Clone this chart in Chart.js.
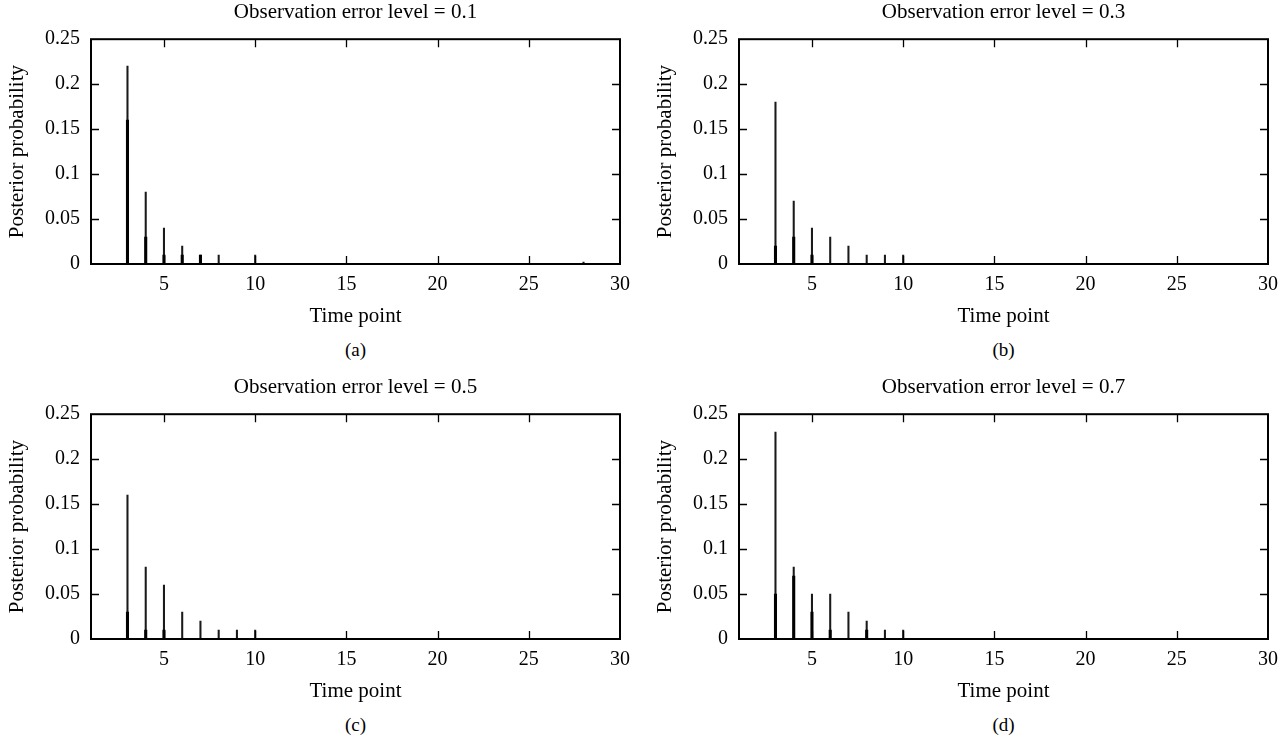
<!DOCTYPE html>
<html lang="en">
<head>
  <meta charset="UTF-8" />
  <title>Posterior probability vs time point</title>
  <script src="https://cdn.jsdelivr.net/npm/chart.js@4.4.0/dist/chart.umd.min.js"></script>
  <style>
    body {
      margin: 0;
      background: #fff;
      font-family: 'Liberation Serif', serif;
      width: 1288px;
      height: 749px;
      position: relative;
      overflow: hidden;
    }
    .panel { position: absolute; width: 640px; height: 375px; }
    .panel canvas { position: absolute; left: 0; top: 0; }
    .caption {
      position: absolute;
      top: 339px;
      left: 91px;
      width: 529px;
      text-align: center;
      font-size: 19px;
      color: #000;
    }
  </style>
</head>
<body>

  <div class="panel" style="left:0;top:0"><canvas id="chartA" width="640" height="334"></canvas><div class="caption">(a)</div></div>
  <div class="panel" style="left:648px;top:0"><canvas id="chartB" width="640" height="334"></canvas><div class="caption">(b)</div></div>
  <div class="panel" style="left:0;top:375px"><canvas id="chartC" width="640" height="334"></canvas><div class="caption">(c)</div></div>
  <div class="panel" style="left:648px;top:375px"><canvas id="chartD" width="640" height="334"></canvas><div class="caption">(d)</div></div>

  <script>
    // error levels, one per panel
    const errorLevels = [0.1, 0.3, 0.5, 0.7];

    // time points with a visible spike, and posterior probabilities
    const timeA = [3, 4, 5, 6, 7, 8, 10, 28];
    const probA = [0.22, 0.08, 0.04, 0.02, 0.01, 0.01, 0.01, 0.002];
    const timeB = [3, 4, 5, 6, 7, 8, 9, 10];
    const probB = [0.18, 0.07, 0.04, 0.03, 0.02, 0.01, 0.01, 0.01];
    const timeC = [3, 4, 5, 6, 7, 8, 9, 10];
    const probC = [0.16, 0.08, 0.06, 0.03, 0.02, 0.01, 0.01, 0.01];
    const timeD = [3, 4, 5, 6, 7, 8, 9, 10];
    const probD = [0.23, 0.08, 0.05, 0.05, 0.03, 0.02, 0.01, 0.01];

    // overlapping (darker) part of the spikes
    const darkTimeA = [3, 4, 5, 6, 7];
    const darkProbA = [0.16, 0.03, 0.01, 0.01, 0.01];
    const darkTimeB = [3, 4, 5];
    const darkProbB = [0.02, 0.03, 0.01];
    const darkTimeC = [3, 4, 5];
    const darkProbC = [0.03, 0.01, 0.01];
    const darkTimeD = [3, 4, 5, 6, 8];
    const darkProbD = [0.05, 0.07, 0.03, 0.01, 0.01];

    const xTicks = [5, 10, 15, 20, 25, 30];
    const yTicks = [0, 0.05, 0.1, 0.15, 0.2, 0.25];

    const FONT = "'Liberation Serif', 'DejaVu Serif', serif";

    const toPoints = (xs, ys) => xs.map((x, i) => ({ x: x, y: ys[i] }));

    // box frame + inward ticks on all four sides
    const framePlugin = {
      id: 'frame',
      afterDraw(chart) {
        const { ctx, chartArea: a, scales } = chart;
        ctx.save();
        ctx.strokeStyle = '#000';
        ctx.lineWidth = 1.3;
        const len = 8;
        ctx.beginPath();
        xTicks.forEach(v => {
          if (v <= scales.x.min || v >= scales.x.max) return;
          const px = Math.round(scales.x.getPixelForValue(v)) + 0.5;
          ctx.moveTo(px, a.bottom); ctx.lineTo(px, a.bottom - len);
          ctx.moveTo(px, a.top); ctx.lineTo(px, a.top + len);
        });
        yTicks.forEach(v => {
          if (v <= scales.y.min || v >= scales.y.max) return;
          const py = Math.round(scales.y.getPixelForValue(v)) + 0.5;
          ctx.moveTo(a.left, py); ctx.lineTo(a.left + len, py);
          ctx.moveTo(a.right, py); ctx.lineTo(a.right - len, py);
        });
        ctx.stroke();
        ctx.lineWidth = 2;
        ctx.strokeRect(a.left, a.top, a.right - a.left, a.bottom - a.top);
        ctx.restore();
      }
    };

    function makeChart(id, level, xs, ys, dxs, dys) {
      return new Chart(document.getElementById(id), {
        type: 'bar',
        data: {
          datasets: [
            { data: toPoints(dxs, dys), backgroundColor: '#000', barThickness: 2.4, order: 0 },
            { data: toPoints(xs, ys), backgroundColor: '#1a1a1a', barThickness: 1.4, order: 1 }
          ]
        },
        options: {
          responsive: false,
          animation: false,
          events: [],
          layout: { padding: { left: 0, right: 20, top: 0, bottom: 0 } },
          datasets: { bar: { grouped: false } },
          plugins: {
            legend: { display: false },
            tooltip: { enabled: false },
            title: {
              display: true,
              fullSize: false,
              text: 'Observation error level = ' + level,
              color: '#000',
              font: { family: FONT, size: 21, weight: 'normal' },
              padding: { top: 0, bottom: 14 }
            }
          },
          scales: {
            x: {
              type: 'linear',
              min: 1,
              max: 30,
              offset: false,
              grid: { display: false, drawTicks: false, offset: false },
              border: { display: false },
              afterBuildTicks: s => { s.ticks = xTicks.map(v => ({ value: v })); },
              ticks: { color: '#000', padding: 9, maxRotation: 0, font: { family: FONT, size: 20 } },
              title: {
                display: true, text: 'Time point', color: '#000',
                font: { family: FONT, size: 21 }, padding: { top: 0, bottom: 5 }
              },
              afterFit: s => { s.height = 70; }
            },
            y: {
              min: 0,
              max: 0.25,
              grid: { display: false, drawTicks: false },
              border: { display: false },
              afterBuildTicks: s => { s.ticks = yTicks.map(v => ({ value: v })); },
              ticks: {
                color: '#000', padding: 11, font: { family: FONT, size: 20 },
                callback: v => String(+v.toFixed(2))
              },
              title: {
                display: true, text: 'Posterior probability', color: '#000',
                font: { family: FONT, size: 21 }, padding: { top: 5, bottom: 0 }
              },
              afterFit: s => { s.width = 91; }
            }
          }
        },
        plugins: [framePlugin]
      });
    }

    makeChart('chartA', errorLevels[0], timeA, probA, darkTimeA, darkProbA);
    makeChart('chartB', errorLevels[1], timeB, probB, darkTimeB, darkProbB);
    makeChart('chartC', errorLevels[2], timeC, probC, darkTimeC, darkProbC);
    makeChart('chartD', errorLevels[3], timeD, probD, darkTimeD, darkProbD);
  </script>
</body>
</html>
